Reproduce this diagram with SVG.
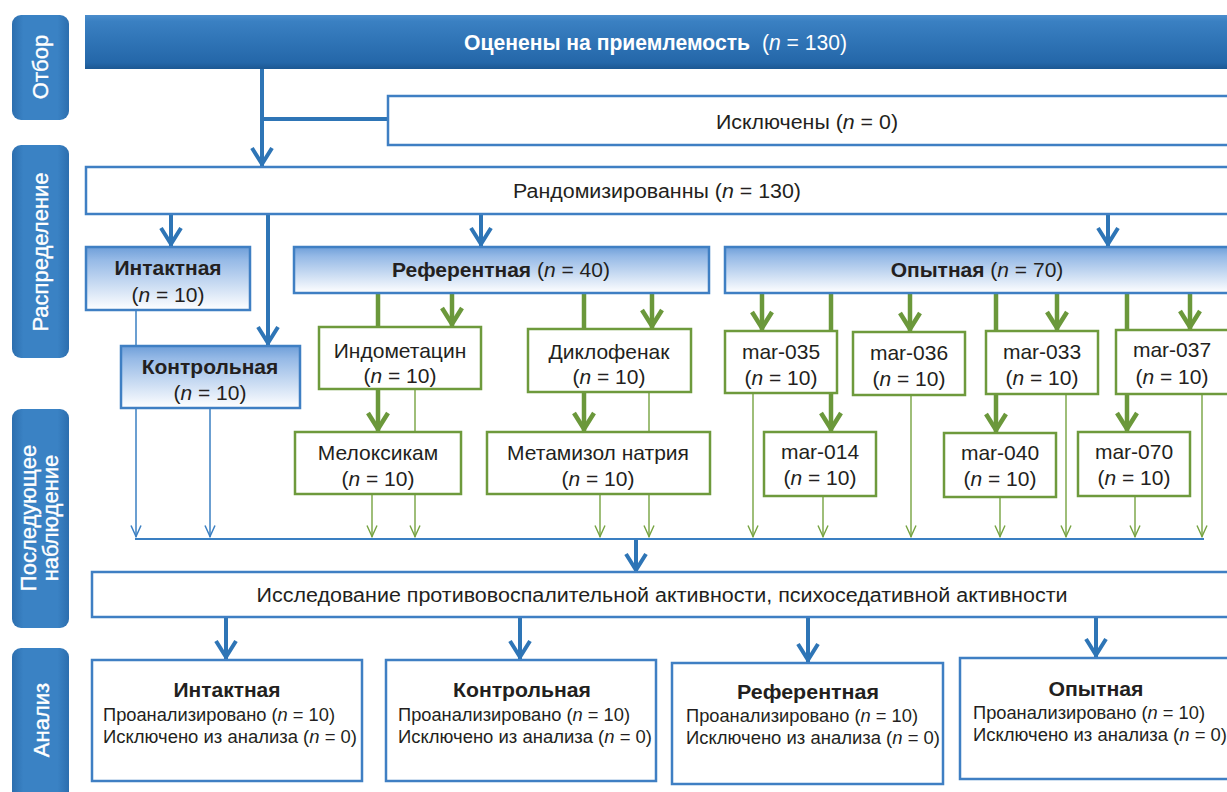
<svg xmlns="http://www.w3.org/2000/svg" width="1227" height="792" viewBox="0 0 1227 792">
<defs>
<style>
.t{font-family:"Liberation Sans",Arial,sans-serif;fill:#231f20;text-anchor:middle}
.c{font-family:"Liberation Sans Narrow","Liberation Sans",Arial,sans-serif;fill:#231f20}
.m{text-anchor:middle}
.b{font-weight:bold}
.w{fill:#ffffff}
.i{font-style:italic}
.nw{font-weight:normal}
.side{font-family:"Liberation Sans",Arial,sans-serif;fill:#ffffff;stroke:#ffffff;stroke-width:0.35;font-size:22px;text-anchor:middle}
.bx{fill:#ffffff;stroke:#3f7fc3;stroke-width:2.5}
.gr{fill:url(#gGrp);stroke:#3f7fc3;stroke-width:2.5}
.gn{fill:#ffffff;stroke:#6e9a3c;stroke-width:2.5}
.sl{fill:url(#gSide)}
.lb{fill:none;stroke:#2e75b6;stroke-width:4}
.lbt{fill:none;stroke:#3a7fc2;stroke-width:1.5}
.lg{fill:none;stroke:#6b983b;stroke-width:4.5}
.lgt{fill:none;stroke:#76a340;stroke-width:1.4}
</style>
<linearGradient id="gBar" x1="0" y1="0" x2="0" y2="1">
<stop offset="0" stop-color="#4b8dcc"/><stop offset="0.12" stop-color="#3a80c2"/><stop offset="0.88" stop-color="#2467a9"/><stop offset="1" stop-color="#1c5893"/>
</linearGradient>
<linearGradient id="gSide" x1="0" y1="0" x2="1" y2="0">
<stop offset="0" stop-color="#2c6eae"/><stop offset="0.2" stop-color="#3a82c4"/><stop offset="0.8" stop-color="#3a82c4"/><stop offset="1" stop-color="#2c6eae"/>
</linearGradient>
<linearGradient id="gGrp" x1="0" y1="0" x2="0" y2="1">
<stop offset="0" stop-color="#6f9fd9"/><stop offset="0.2" stop-color="#95b9e6"/><stop offset="1" stop-color="#ffffff"/>
</linearGradient>
<marker id="aB" viewBox="-3 -13 26 26" refX="18" refY="0" markerWidth="26" markerHeight="26" markerUnits="userSpaceOnUse" orient="auto">
<path d="M0,-10 L16,0 L0,10" fill="none" stroke="#2e75b6" stroke-width="4"/>
</marker>
<marker id="aG" viewBox="-3 -13 26 26" refX="18" refY="0" markerWidth="26" markerHeight="26" markerUnits="userSpaceOnUse" orient="auto">
<path d="M0,-10 L16,0 L0,10" fill="none" stroke="#6b983b" stroke-width="4.5"/>
</marker>
<marker id="aBt" viewBox="-2 -7 16 14" refX="11.5" refY="0" markerWidth="16" markerHeight="14" markerUnits="userSpaceOnUse" orient="auto">
<path d="M0,-5 L11,0 L0,5" fill="none" stroke="#3a7fc2" stroke-width="1.5"/>
</marker>
<marker id="aGt" viewBox="-2 -7 16 14" refX="11.5" refY="0" markerWidth="16" markerHeight="14" markerUnits="userSpaceOnUse" orient="auto">
<path d="M0,-5 L11,0 L0,5" fill="none" stroke="#76a340" stroke-width="1.4"/>
</marker>
</defs>
<rect width="1227" height="792" fill="#ffffff"/>

<g id="side-labels">
<g id="lbl-otbor"><rect class="sl" x="12" y="15" width="57" height="105" rx="9"/><text class="side" transform="translate(48,67) rotate(-90)">Отбор</text></g>
<g id="lbl-raspr"><rect class="sl" x="12" y="145" width="57" height="213" rx="9"/><text class="side" transform="translate(48,252) rotate(-90)">Распределение</text></g>
<g id="lbl-posl"><rect class="sl" x="12" y="409" width="57" height="219" rx="9"/><text class="side" transform="translate(36,518) rotate(-90)">Последующее</text><text class="side" transform="translate(58,518) rotate(-90)">наблюдение</text></g>
<g id="lbl-analiz"><rect class="sl" x="12" y="648" width="57" height="160" rx="9"/><text class="side" transform="translate(49,720) rotate(-90)">Анализ</text></g>
</g>

<g id="connectors">
<path class="lb" d="M262,69 V166" marker-end="url(#aB)"/>
<path class="lb" d="M262,119 H388"/>
<path class="lb" d="M171,213 V246" marker-end="url(#aB)"/>
<path class="lb" d="M268,213 V345" marker-end="url(#aB)"/>
<path class="lb" d="M481,213 V246" marker-end="url(#aB)"/>
<path class="lb" d="M1108,213 V246" marker-end="url(#aB)"/>
<path class="lbt" d="M136,310 V537" marker-end="url(#aBt)"/>
<path class="lbt" d="M210,408 V537" marker-end="url(#aBt)"/>
<path class="lg" d="M378,293 V327"/>
<path class="lg" d="M452,293 V326" marker-end="url(#aG)"/>
<path class="lg" d="M584,293 V329"/>
<path class="lg" d="M652,293 V328" marker-end="url(#aG)"/>
<path class="lg" d="M378,389 V431" marker-end="url(#aG)"/>
<path class="lg" d="M584,392 V431" marker-end="url(#aG)"/>
<path class="lg" d="M762,293 V330" marker-end="url(#aG)"/>
<path class="lg" d="M831,293 V331"/>
<path class="lg" d="M831,393 V431" marker-end="url(#aG)"/>
<path class="lg" d="M910,293 V331" marker-end="url(#aG)"/>
<path class="lg" d="M996,293 V331"/>
<path class="lg" d="M996,394 V432" marker-end="url(#aG)"/>
<path class="lg" d="M1057,293 V330" marker-end="url(#aG)"/>
<path class="lg" d="M1127,293 V330"/>
<path class="lg" d="M1127,394 V431" marker-end="url(#aG)"/>
<path class="lg" d="M1190,293 V329" marker-end="url(#aG)"/>
<path class="lgt" d="M415,389 V537" marker-end="url(#aGt)"/>
<path class="lgt" d="M372,494 V537" marker-end="url(#aGt)"/>
<path class="lgt" d="M649,392 V537" marker-end="url(#aGt)"/>
<path class="lgt" d="M600,494 V537" marker-end="url(#aGt)"/>
<path class="lgt" d="M753,393 V537" marker-end="url(#aGt)"/>
<path class="lgt" d="M823,496 V537" marker-end="url(#aGt)"/>
<path class="lgt" d="M911,395 V537" marker-end="url(#aGt)"/>
<path class="lgt" d="M1000,497 V537" marker-end="url(#aGt)"/>
<path class="lgt" d="M1066,394 V537" marker-end="url(#aGt)"/>
<path class="lgt" d="M1135,496 V537" marker-end="url(#aGt)"/>
<path class="lgt" d="M1202,394 V537" marker-end="url(#aGt)"/>
<path d="M135,539 H1204" fill="none" stroke="#3a7fc2" stroke-width="2.2"/>
<path class="lb" d="M636,540 V572" marker-end="url(#aB)"/>
<path class="lb" d="M226,617 V659" marker-end="url(#aB)"/>
<path class="lb" d="M520,617 V659" marker-end="url(#aB)"/>
<path class="lb" d="M808,617 V662" marker-end="url(#aB)"/>
<path class="lb" d="M1096,617 V657" marker-end="url(#aB)"/>
</g>

<g id="n-assessed"><rect x="85" y="15" width="1160" height="54" fill="url(#gBar)"/><text class="c b w" x="464" y="50" font-size="22" textLength="286" lengthAdjust="spacingAndGlyphs">Оценены на приемлемость</text><text class="c w" x="762" y="50" font-size="22" textLength="85" lengthAdjust="spacingAndGlyphs">(<tspan class="i">n</tspan> = 130)</text></g>
<g id="n-excluded"><rect class="bx" x="388" y="96" width="860" height="49"/><text class="c m" x="807" y="129" font-size="20" textLength="182" lengthAdjust="spacingAndGlyphs">Исключены (<tspan class="i">n</tspan> = 0)</text></g>
<g id="n-random"><rect class="bx" x="86" y="167" width="1160" height="47"/><text class="c m" x="657" y="198" font-size="20" textLength="288" lengthAdjust="spacingAndGlyphs">Рандомизированны (<tspan class="i">n</tspan> = 130)</text></g>

<g id="n-intact"><rect class="gr" x="86" y="247" width="164" height="63"/><text class="t b" x="168" y="275" font-size="21">Интактная</text><text class="t" x="168" y="302" font-size="21">(<tspan class="i">n</tspan> = 10)</text></g>
<g id="n-control"><rect class="gr" x="121" y="346" width="179" height="62"/><text class="t b" x="210" y="374" font-size="21">Контрольная</text><text class="t" x="210" y="400" font-size="21">(<tspan class="i">n</tspan> = 10)</text></g>
<g id="n-reference"><rect class="gr" x="294" y="247" width="415" height="46"/><text class="t" x="501" y="277" font-size="21"><tspan class="b">Референтная</tspan> (<tspan class="i">n</tspan> = 40)</text></g>
<g id="n-experimental"><rect class="gr" x="725" y="247" width="520" height="46"/><text class="t" x="977" y="277" font-size="21"><tspan class="b">Опытная</tspan> (<tspan class="i">n</tspan> = 70)</text></g>

<g id="n-indomet"><rect class="gn" x="319" y="327" width="162" height="62"/><text class="t" x="400" y="358" font-size="21">Индометацин</text><text class="t" x="400" y="383" font-size="21">(<tspan class="i">n</tspan> = 10)</text></g>
<g id="n-diclof"><rect class="gn" x="528" y="329" width="163" height="63"/><text class="t" x="609" y="359" font-size="21">Диклофенак</text><text class="t" x="609" y="384" font-size="21">(<tspan class="i">n</tspan> = 10)</text></g>
<g id="n-melox"><rect class="gn" x="295" y="432" width="166" height="62"/><text class="t" x="378" y="460" font-size="21">Мелоксикам</text><text class="t" x="378" y="486" font-size="21">(<tspan class="i">n</tspan> = 10)</text></g>
<g id="n-metamizol"><rect class="gn" x="487" y="432" width="223" height="62"/><text class="t" x="598" y="460" font-size="21">Метамизол натрия</text><text class="t" x="598" y="486" font-size="21">(<tspan class="i">n</tspan> = 10)</text></g>

<g id="n-mar035"><rect class="gn" x="725" y="331" width="112" height="62"/><text class="t" x="781" y="359" font-size="21">mar-035</text><text class="t" x="781" y="385" font-size="21">(<tspan class="i">n</tspan> = 10)</text></g>
<g id="n-mar036"><rect class="gn" x="853" y="332" width="112" height="63"/><text class="t" x="909" y="360" font-size="21">mar-036</text><text class="t" x="909" y="386" font-size="21">(<tspan class="i">n</tspan> = 10)</text></g>
<g id="n-mar033"><rect class="gn" x="986" y="331" width="112" height="63"/><text class="t" x="1042" y="359" font-size="21">mar-033</text><text class="t" x="1042" y="385" font-size="21">(<tspan class="i">n</tspan> = 10)</text></g>
<g id="n-mar037"><rect class="gn" x="1116" y="330" width="130" height="64"/><text class="t" x="1172" y="357" font-size="21">mar-037</text><text class="t" x="1172" y="384" font-size="21">(<tspan class="i">n</tspan> = 10)</text></g>
<g id="n-mar014"><rect class="gn" x="764" y="432" width="112" height="64"/><text class="t" x="820" y="459" font-size="21">mar-014</text><text class="t" x="820" y="485" font-size="21">(<tspan class="i">n</tspan> = 10)</text></g>
<g id="n-mar040"><rect class="gn" x="944" y="433" width="112" height="64"/><text class="t" x="1000" y="460" font-size="21">mar-040</text><text class="t" x="1000" y="486" font-size="21">(<tspan class="i">n</tspan> = 10)</text></g>
<g id="n-mar070"><rect class="gn" x="1078" y="432" width="112" height="64"/><text class="t" x="1134" y="459" font-size="21">mar-070</text><text class="t" x="1134" y="485" font-size="21">(<tspan class="i">n</tspan> = 10)</text></g>

<g id="n-study"><rect class="bx" x="92" y="572" width="1150" height="45"/><text class="c m" x="662" y="602" font-size="20" textLength="811" lengthAdjust="spacingAndGlyphs">Исследование противовоспалительной активности, психоседативной активности</text></g>

<g id="n-an-intact"><rect class="bx" x="92" y="660" width="270" height="121"/><text class="c m b" x="227" y="697" font-size="20" textLength="107" lengthAdjust="spacingAndGlyphs">Интактная</text><text class="c" x="103" y="721" font-size="17.5" textLength="232" lengthAdjust="spacingAndGlyphs">Проанализировано (<tspan class="i">n</tspan> = 10)</text><text class="c" x="103" y="743" font-size="17.5" textLength="254" lengthAdjust="spacingAndGlyphs">Исключено из анализа (<tspan class="i">n</tspan> = 0)</text></g>
<g id="n-an-control"><rect class="bx" x="386" y="660" width="270" height="121"/><text class="c m b" x="522" y="697" font-size="20" textLength="138" lengthAdjust="spacingAndGlyphs">Контрольная</text><text class="c" x="398" y="721" font-size="17.5" textLength="232" lengthAdjust="spacingAndGlyphs">Проанализировано (<tspan class="i">n</tspan> = 10)</text><text class="c" x="398" y="743" font-size="17.5" textLength="254" lengthAdjust="spacingAndGlyphs">Исключено из анализа (<tspan class="i">n</tspan> = 0)</text></g>
<g id="n-an-reference"><rect class="bx" x="672" y="663" width="271" height="121"/><text class="c m b" x="808" y="699" font-size="20" textLength="142" lengthAdjust="spacingAndGlyphs">Референтная</text><text class="c" x="686" y="722" font-size="17.5" textLength="232" lengthAdjust="spacingAndGlyphs">Проанализировано (<tspan class="i">n</tspan> = 10)</text><text class="c" x="686" y="744" font-size="17.5" textLength="254" lengthAdjust="spacingAndGlyphs">Исключено из анализа (<tspan class="i">n</tspan> = 0)</text></g>
<g id="n-an-experimental"><rect class="bx" x="960" y="658" width="290" height="121"/><text class="c m b" x="1096" y="696" font-size="20" textLength="95" lengthAdjust="spacingAndGlyphs">Опытная</text><text class="c" x="973" y="719" font-size="17.5" textLength="232" lengthAdjust="spacingAndGlyphs">Проанализировано (<tspan class="i">n</tspan> = 10)</text><text class="c" x="973" y="741" font-size="17.5" textLength="254" lengthAdjust="spacingAndGlyphs">Исключено из анализа (<tspan class="i">n</tspan> = 0)</text></g>
</svg>
